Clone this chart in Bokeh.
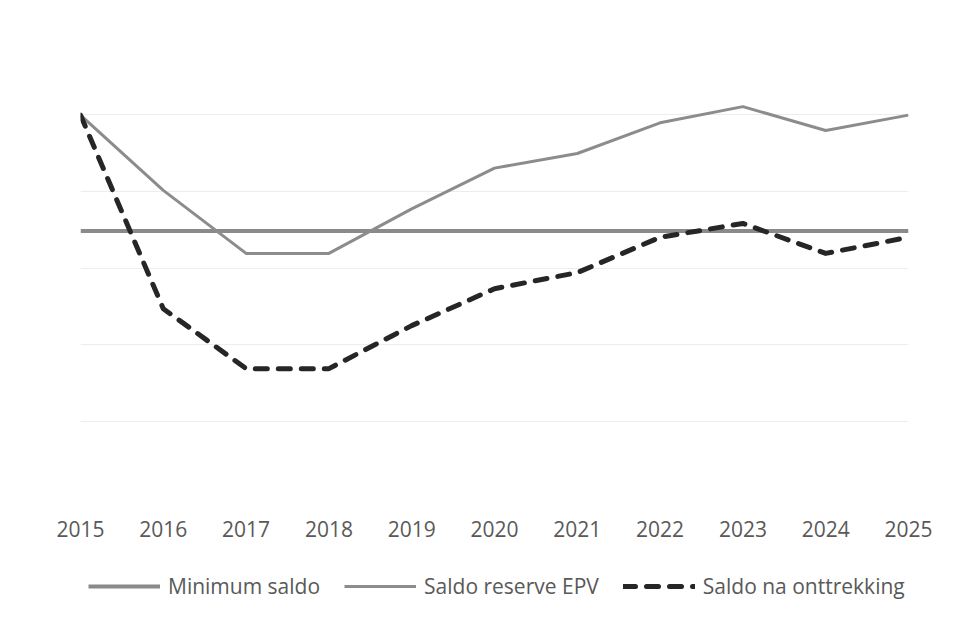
from bokeh.plotting import figure
from bokeh.models import Range1d, FixedTicker, Legend, LegendItem
from bokeh.layouts import column
from bokeh.embed import file_html
from bokeh.resources import INLINE

years = [2015, 2016, 2017, 2018, 2019, 2020, 2021, 2022, 2023, 2024, 2025]
minimum_saldo = [3.48] * 11
saldo_reserve_epv = [4.99, 4.01, 3.19, 3.19, 3.77, 4.30, 4.49, 4.89, 5.10, 4.79, 4.99]
saldo_na_onttrekking = [4.99, 2.47, 1.69, 1.69, 2.25, 2.73, 2.94, 3.40, 3.58, 3.19, 3.40]
grid_values = [0, 1, 2, 3, 4, 5, 6]
series_names = ["Minimum saldo", "Saldo reserve EPV", "Saldo na onttrekking"]

FONT = "Open Sans"
TEXT = "#595959"
styles = [
    dict(line_color="#8a8a8a", line_width=4),
    dict(line_color="#8c8c8c", line_width=3),
    dict(line_color="#262626", line_width=5, line_dash="12 11", line_cap="round", line_join="round"),
]
series = [minimum_saldo, saldo_reserve_epv, saldo_na_onttrekking]

p = figure(frame_width=828, frame_height=461, output_backend="svg", toolbar_location=None,
           x_range=Range1d(2015, 2025), y_range=Range1d(0, 6),
           min_border_left=80, min_border_right=49, min_border_top=37, min_border_bottom=60)
p.outline_line_color = None
p.background_fill_color = "white"
p.border_fill_color = "white"

p.yaxis.visible = False
p.ygrid.ticker = FixedTicker(ticks=grid_values)
p.ygrid.grid_line_color = "#ededed"
p.ygrid.grid_line_width = 1
p.xgrid.visible = False

p.xaxis.ticker = FixedTicker(ticks=years)
p.xaxis.axis_line_color = None
p.xaxis.major_tick_line_color = None
p.xaxis.minor_tick_line_color = None
p.xaxis.major_label_standoff = 16
p.xaxis.major_label_text_font = FONT
p.xaxis.major_label_text_font_size = "21px"
p.xaxis.major_label_text_color = TEXT

for ys, st in zip(series, styles):
    p.line(years, ys, **st)

# legend strip below the chart (its lines fall outside its visible range;
# only the legend keys show)
lg = figure(width=957, height=58, output_backend="svg", toolbar_location=None,
            x_range=Range1d(0, 1), y_range=Range1d(0, 1),
            min_border_left=80, min_border_right=49, min_border_top=0, min_border_bottom=0)
lg.axis.visible = False
lg.grid.visible = False
lg.outline_line_color = None
lg.border_fill_color = "white"
items = []
for name, ys, st in zip(series_names, series, styles):
    r = lg.line(years, ys, **st)
    items.append(LegendItem(label=name, renderers=[r]))

legend = Legend(items=items, orientation="horizontal", location=(8, 16))
legend.label_text_font = FONT
legend.label_text_font_size = "21px"
legend.label_text_color = TEXT
legend.glyph_width = 72
legend.glyph_height = 20
legend.label_standoff = 8
legend.spacing = 24
legend.padding = 0
legend.margin = 0
legend.border_line_alpha = 0
legend.background_fill_alpha = 0
lg.add_layout(legend, "center")

layout = column(p, lg, spacing=0)
open("out.html", "w").write(file_html(layout, INLINE))
